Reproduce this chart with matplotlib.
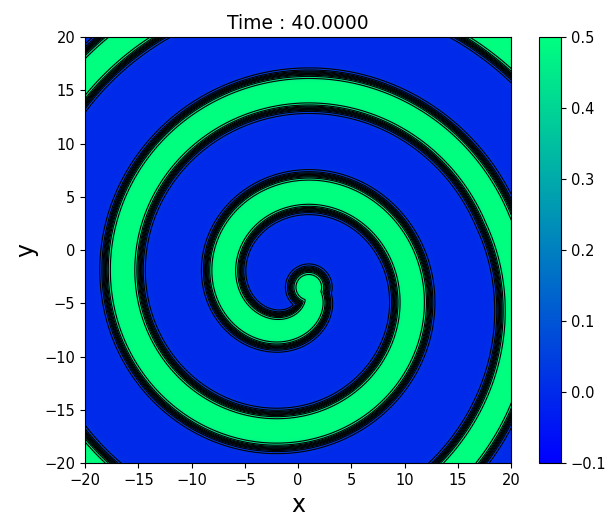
import numpy as np
import matplotlib
matplotlib.use("Agg")
import matplotlib.pyplot as plt

# values
time_value = 40.0
x_limits = [-20, 20]
y_limits = [-20, 20]
axis_ticks = [-20, -15, -10, -5, 0, 5, 10, 15, 20]
cbar_ticks = [-0.1, 0.0, 0.1, 0.2, 0.3, 0.4, 0.5]
c_min, c_max = -0.1, 0.5
u_rest = 0.0
u_excited = 0.5

# spiral geometry (estimated from the arm positions in the picture)
spiral_cx = -0.5
spiral_cy = -3.4
spiral_pitch = 9.6      # distance between successive arms
spiral_r0 = 1.5         # arm radius where the arm starts
outer_shift = 1.0       # outer turns sit a bit further out
arm_halfwidth = 1.65
front_width = 0.18
tip_x, tip_y = 1.0, -3.5
tip_radius = 1.7

n = 500
x = np.linspace(x_limits[0], x_limits[1], n)
y = np.linspace(y_limits[0], y_limits[1], n)
X, Y = np.meshgrid(x, y)
dx = X - spiral_cx
dy = Y - spiral_cy
r = np.hypot(dx, dy)
psi0 = np.mod(-np.arctan2(dy, dx), 2 * np.pi)

# signed distance to the excited arm (negative inside)
d = np.hypot(X - tip_x, Y - tip_y) - tip_radius
for k in range(0, 5):
    psi = psi0 + 2 * np.pi * k
    turns = psi / (2 * np.pi)
    rc = spiral_r0 + spiral_pitch * turns + outer_shift * np.clip((turns - 1.95) / 0.2, 0, 1)
    hw = arm_halfwidth * (1 - 0.2 * np.exp(-psi / 0.8))
    d = np.minimum(d, np.abs(r - rc) - hw)

u = u_rest + (u_excited - u_rest) / (1 + np.exp(d / front_width))

fig = plt.figure(figsize=(6.16, 5.22), dpi=100)
ax = fig.add_axes([0.138, 0.113, 0.692, 0.816])
im = ax.imshow(u, extent=[x_limits[0], x_limits[1], y_limits[0], y_limits[1]],
               origin="lower", cmap="winter", vmin=c_min, vmax=c_max,
               interpolation="bilinear", aspect="auto")
ax.contour(X, Y, u, levels=np.linspace(0.03, 0.47, 10), colors="k", linewidths=0.8)
ax.set_xticks(axis_ticks)
ax.set_yticks(axis_ticks)
ax.tick_params(labelsize=10.5)
ax.set_title("Time : %.4f" % time_value, fontsize=13.5)
ax.set_xlabel("x", fontsize=17)
ax.set_ylabel("y", fontsize=17)

cax = fig.add_axes([0.875, 0.113, 0.036, 0.816])
cb = fig.colorbar(im, cax=cax, ticks=cbar_ticks)
cb.ax.tick_params(labelsize=10.5)

fig.savefig("out.png", dpi=100)
